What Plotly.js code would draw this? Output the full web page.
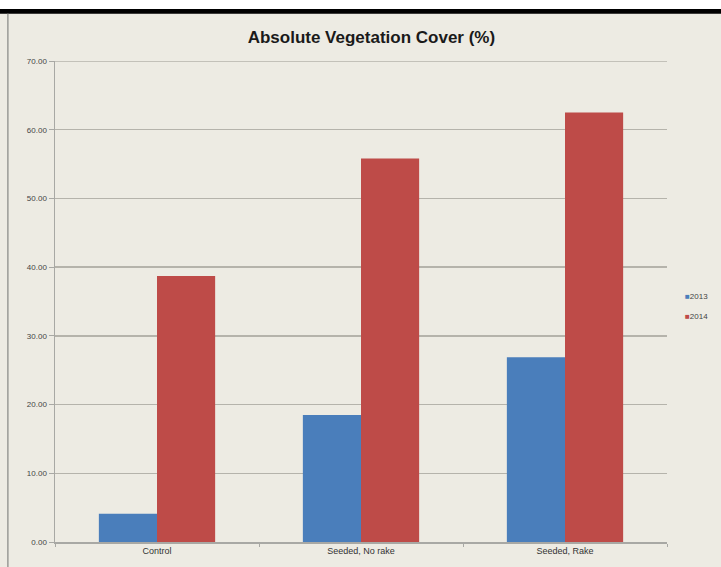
<!DOCTYPE html>
<html>
<head>
<meta charset="utf-8">
<script src="https://cdn.plot.ly/plotly-3.0.1.min.js"></script>
<style>html,body{margin:0;padding:0;background:#fff;}#chart{width:721px;height:567px;}</style>
</head>
<body>
<div id="chart"></div>
<script>
const categories = ["Control", "Seeded, No rake", "Seeded, Rake"];
const values2013 = [4.1, 18.5, 26.9];
const values2014 = [38.7, 55.8, 62.5];
const seriesNames = ["2013", "2014"];
const seriesColors = ["#4A7EBB", "#BE4B48"];
const yTicks = [0, 10, 20, 30, 40, 50, 60, 70];
const yTickLabels = ["0.00", "10.00", "20.00", "30.00", "40.00", "50.00", "60.00", "70.00"];
const yMax = 70;

const traces = [
  {type: "bar", name: seriesNames[0], x: categories, y: values2013, marker: {color: seriesColors[0]}},
  {type: "bar", name: seriesNames[1], x: categories, y: values2014, marker: {color: seriesColors[1]}}
];

const legendAnnotations = seriesNames.map((n, i) => ({
  xref: "paper", yref: "paper", x: 1.026, y: 0.51 - i * 0.042, xanchor: "left", yanchor: "middle",
  showarrow: false, align: "left",
  text: "<span style='color:" + seriesColors[i] + ";font-size:8px'>■</span>" + n,
  font: {size: 8, color: "#444"}
}));

const layout = {
  width: 721, height: 567,
  paper_bgcolor: "#EDEBE3",
  plot_bgcolor: "#EDEBE3",
  margin: {l: 55, r: 54, t: 61, b: 25, autoexpand: false},
  barmode: "group",
  bargap: 0.43,
  bargroupgap: 0,
  showlegend: false,
  title: {text: "<b>Absolute Vegetation Cover (%)</b>", font: {family: "Liberation Sans, Arial, sans-serif", size: 17, color: "#1a1a1a"}, x: 0.517, xref: "paper", y: 0.935, yanchor: "middle"},
  font: {family: "Liberation Sans, Arial, sans-serif", size: 8, color: "#444"},
  xaxis: {
    type: "category", showline: true, linecolor: "#A8A8A4", linewidth: 1.5,
    ticks: "outside", tickson: "boundaries", ticklen: 3, tickcolor: "#A8A8A4",
    showgrid: false, tickfont: {size: 9, color: "#333"}, zeroline: false
  },
  yaxis: {
    range: [0, yMax], tickvals: yTicks, ticktext: yTickLabels,
    showline: true, linecolor: "#A8A8A4", linewidth: 1.5,
    ticks: "outside", ticklen: 5, tickcolor: "#A8A8A4",
    gridcolor: "#B5B3AB", gridwidth: 1.5, zeroline: false,
    tickfont: {size: 8, color: "#444"}
  },
  annotations: legendAnnotations,
  shapes: [
    {type: "rect", xref: "paper", yref: "paper", x0: -0.1, x1: 1.2, y0: 1.108, y1: 1.2, fillcolor: "#ffffff", line: {width: 0}},
    {type: "rect", xref: "paper", yref: "paper", x0: -0.1, x1: 1.2, y0: 1.098, y1: 1.108, fillcolor: "#000000", line: {width: 0}},
    {type: "line", xref: "paper", yref: "paper", x0: -0.077, x1: -0.077, y0: -0.06, y1: 1.098, line: {color: "#9a9a96", width: 1.5}},
    {type: "line", xref: "paper", yref: "y", x0: 0, x1: 1, y0: yMax, y1: yMax, line: {color: "#B5B3AB", width: 1.5}}
  ]
};

Plotly.newPlot("chart", traces, layout, {displayModeBar: false, staticPlot: true});
</script>
</body>
</html>
